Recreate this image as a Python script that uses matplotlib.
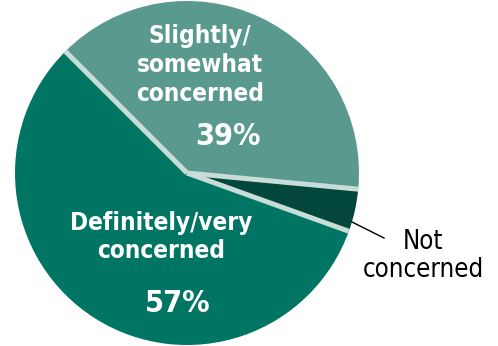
import matplotlib
matplotlib.use("Agg")
import matplotlib.pyplot as plt
import numpy as np

labels = ["Slightly/\nsomewhat\nconcerned", "Not\nconcerned", "Definitely/very\nconcerned"]
values = [39, 4, 57]
pct_labels = ["39%", "", "57%"]
colors = ["#5a998e", "#03463c", "#007563"]

fig = plt.figure(figsize=(4.98, 3.46), dpi=100)
ax = fig.add_axes([15/498, 1/346, 344/498, 344/346])
wedges, _ = ax.pie(values, colors=colors, startangle=135, counterclock=False,
                   wedgeprops=dict(linewidth=0))
# separators
ang = 135.0
for v in values:
    t = np.deg2rad(ang)
    ax.plot([0, np.cos(t)], [0, np.sin(t)], color="#c8dcd8", lw=3.6, solid_capstyle="butt")
    ang -= v / sum(values) * 360
ax.set_xlim(-1, 1)
ax.set_ylim(-1, 1)
ax.set_aspect("equal")
ax.axis("off")

fam = "DejaVu Sans"
fkw = dict(family=fam, stretch="condensed", fontsize=17.5, color="white",
           fontweight="bold", ha="center", va="center", linespacing=1.24)

def px(x, y):
    return (x / 498, 1 - y / 346)

fig.text(*px(200, 65), labels[0], **fkw)
fig.text(*px(228, 137), pct_labels[0], **{**fkw, "fontsize": 22})
fig.text(*px(161, 237), labels[2], **fkw)
fig.text(*px(178, 304), pct_labels[2], **{**fkw, "fontsize": 22})
fig.text(*px(423, 256), labels[1], family=fam, stretch="condensed", fontsize=18.5,
         color="black", ha="center", va="center", linespacing=1.1)
fig.add_artist(plt.Line2D([352/498, 384/498], [1 - 222/346, 1 - 238/346], color="black", lw=1))

fig.savefig("out.png", dpi=100)
